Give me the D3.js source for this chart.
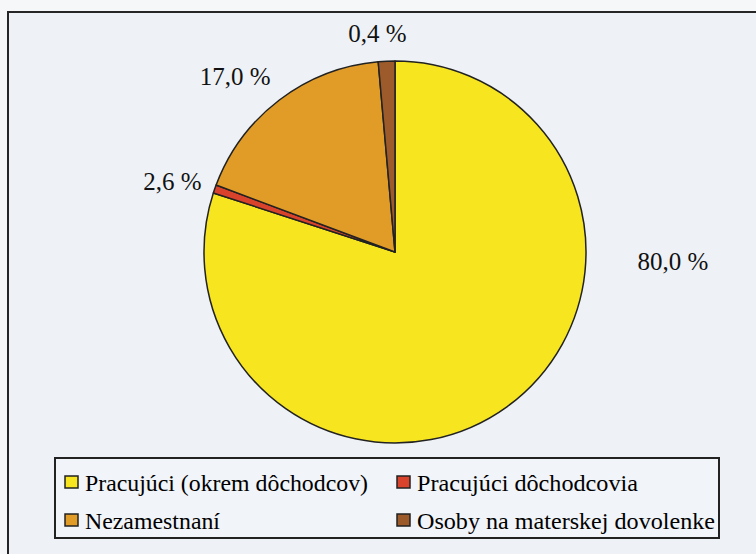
<!DOCTYPE html>
<html lang="sk">
<head>
    <meta charset="UTF-8"/>
    <title>Štruktúra obyvateľstva</title>
    <script src="https://d3js.org/d3.v7.min.js"></script>
    <style>
        body { margin: 0; background: #f6f7f8; }
        svg { display: block; }
    </style>
</head>
<body>
<div id="chart"></div>

<script>
    // data
    const categories = ["Pracujúci (okrem dôchodcov)", "Pracujúci dôchodcovia", "Nezamestnaní", "Osoby na materskej dovolenke"];
    // slice shares as drawn in the picture (the printed labels differ slightly)
    const values = [80.0, 0.7, 17.9, 1.4];
    const valueLabels = ["80,0 %", "2,6 %", "17,0 %", "0,4 %"];
    const colors = ["#f7e51f", "#d9432b", "#e19b27", "#9d5b2b"];

    const width = 756, height = 554;
    const cx = 395, cy = 252, radius = 191;
    const serif = "'Liberation Serif', 'Times New Roman', Times, serif";

    const svg = d3.select("#chart")
        .append("svg")
        .attr("width", width)
        .attr("height", height);

    // frame
    svg.append("rect")
        .attr("x", 8)
        .attr("y", 12)
        .attr("width", 760)
        .attr("height", 560)
        .attr("fill", "#eef2f7")
        .attr("stroke", "#262626")
        .attr("stroke-width", 2);

    const data = categories.map((c, i) => ({name: c, value: values[i], label: valueLabels[i], color: colors[i]}));

    const pie = d3.pie().sort(null).value(d => d.value);
    const arc = d3.arc().innerRadius(0).outerRadius(radius);
    const labelArc = d3.arc().innerRadius(radius + 30).outerRadius(radius + 30);
    const arcs = pie(data);

    const g = svg.append("g").attr("transform", `translate(${cx}, ${cy})`);

    g.selectAll("path")
        .data(arcs)
        .join("path")
        .attr("d", arc)
        .attr("fill", d => d.data.color)
        .attr("stroke", "#222")
        .attr("stroke-width", 1.5)
        .attr("stroke-linejoin", "round");

    // nudges from the label arc to where the labels sit
    const nudge = [[148, -169], [-14, 2], [-26, 0], [-8, 2]];

    g.selectAll("text.value")
        .data(arcs)
        .join("text")
        .attr("class", "value")
        .attr("transform", (d, i) => {
            const [x, y] = labelArc.centroid(d);
            return `translate(${x + nudge[i][0]}, ${y + nudge[i][1]})`;
        })
        .attr("text-anchor", "middle")
        .attr("dominant-baseline", "central")
        .style("font-family", serif)
        .style("font-size", "25px")
        .style("fill", "#111")
        .text(d => d.data.label);

    // legend
    const legend = svg.append("g").attr("transform", "translate(55, 458)");
    legend.append("rect")
        .attr("width", 664)
        .attr("height", 80)
        .attr("fill", "#f1f4f8")
        .attr("stroke", "#222")
        .attr("stroke-width", 2);

    const colX = [10, 342];
    const rowY = [24, 62];
    const textLen = [283, 221, 135, 298];

    const items = legend.selectAll("g.item")
        .data(data)
        .join("g")
        .attr("class", "item")
        .attr("transform", (d, i) => `translate(${colX[i % 2]}, ${rowY[Math.floor(i / 2)]})`);

    items.append("rect")
        .attr("x", 0)
        .attr("y", -6)
        .attr("width", 13)
        .attr("height", 12)
        .attr("fill", d => d.color)
        .attr("stroke", "#222")
        .attr("stroke-width", 1.5);

    items.append("text")
        .attr("x", 20)
        .attr("y", 1)
        .attr("dominant-baseline", "central")
        .attr("textLength", (d, i) => textLen[i])
        .attr("lengthAdjust", "spacingAndGlyphs")
        .style("font-family", serif)
        .style("font-size", "23px")
        .style("fill", "#000")
        .text(d => d.name);
</script>
</body>
</html>
